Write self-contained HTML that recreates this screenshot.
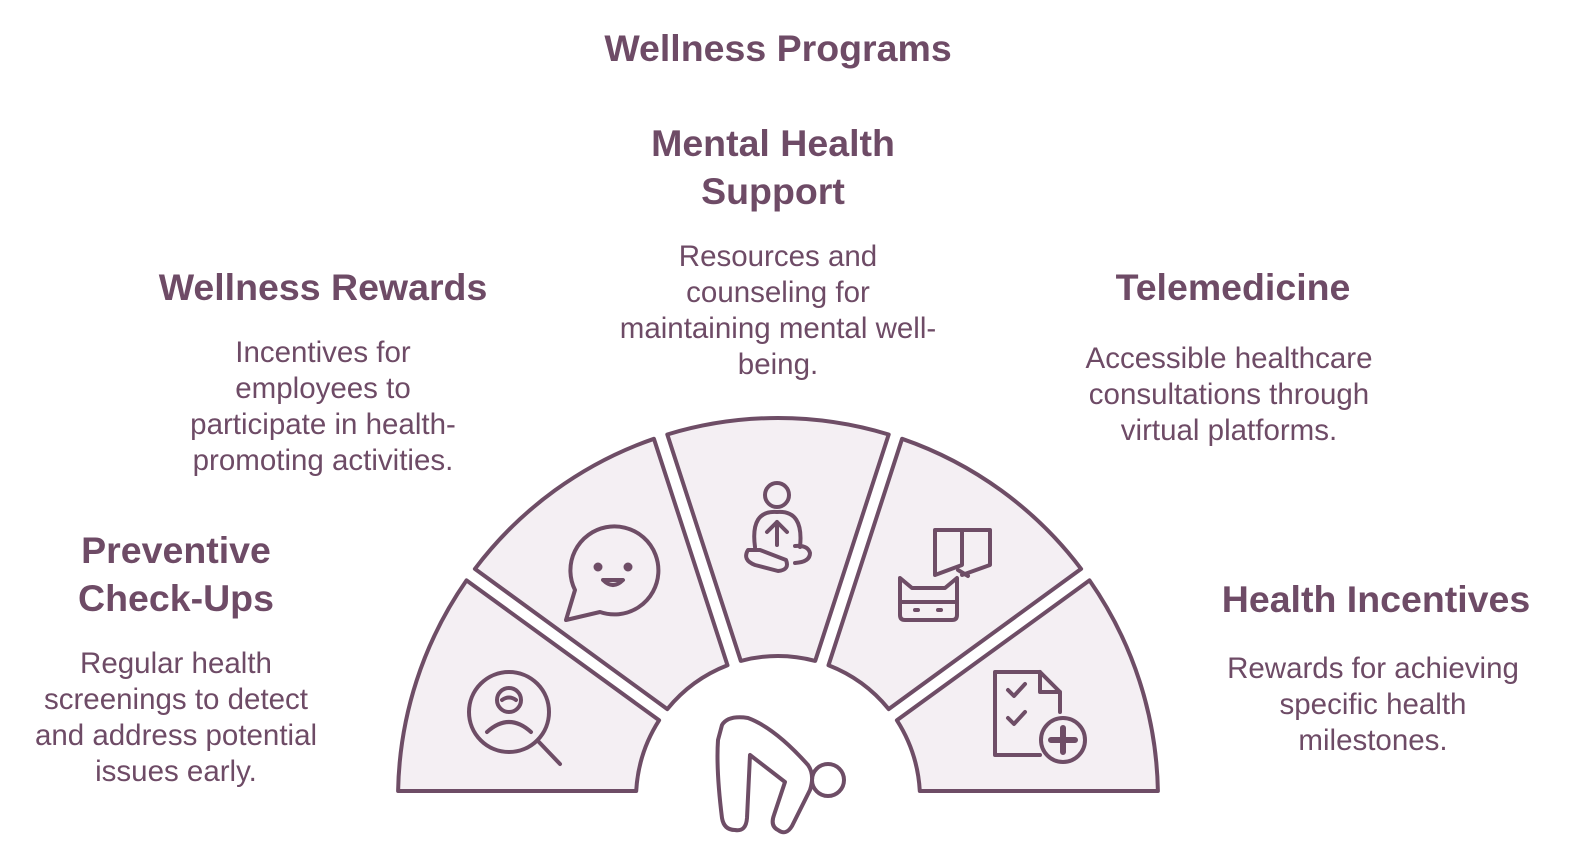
<!DOCTYPE html>
<html><head><meta charset="utf-8"><style>
body{margin:0;width:1572px;height:866px;background:#fff;overflow:hidden;font-family:"Liberation Sans",Roboto,sans-serif;color:#6e4b66}
.t{position:absolute;text-align:center;font-weight:bold;font-size:37.5px;line-height:48px;color:#6e4b66}
.d{position:absolute;text-align:center;font-size:29.5px;line-height:36px;color:#6e4b66}
svg{position:absolute;left:0;top:0}
</style></head><body>
<svg width="1572" height="866" viewBox="0 0 1572 866" fill="none" stroke="#6e4d66" stroke-width="4" stroke-linecap="round" stroke-linejoin="round">
<g fill="#f4eff3">
<path d="M398.1,791 A380,380 0 0 1 466.5,580.4 L659.1,720.3 A146,146 0 0 0 636.2,791 Z"/>
<path d="M474.9,568.9 A380,380 0 0 1 653.9,438.8 L727.5,665.3 A146,146 0 0 0 667.3,709.1 Z"/>
<path d="M667.3,434.5 A380,380 0 0 1 888.7,434.5 L815.2,660.9 A146,146 0 0 0 740.8,660.9 Z"/>
<path d="M902.1,438.8 A380,380 0 0 1 1081.1,568.9 L888.7,709.1 A146,146 0 0 0 828.5,665.3 Z"/>
<path d="M1089.5,580.4 A380,380 0 0 1 1157.9,791 L919.8,791 A146,146 0 0 0 896.9,720.3 Z"/>
</g>
<circle cx="509" cy="712" r="40"/><line x1="538" y1="741" x2="560" y2="764"/>
<circle cx="509" cy="700" r="12"/><path d="M487,732 Q509,712 531,732"/><path d="M502,700 Q509,695 516,700"/>
<path d="M575,590 A44,44 0 1 1 600,612 L566,620 Z" fill="none"/>
<circle cx="598" cy="567" r="2.5" fill="#6e4d66"/><circle cx="628" cy="567" r="2.5" fill="#6e4d66"/><path d="M603,580 Q613,590 623,580 Z"/>
<circle cx="777" cy="495" r="12"/><path d="M755,547 Q750,510 777,512 Q804,510 800,547"/><path d="M767,532 L777,522 L787,532 M777,522 L777,545"/>
<path d="M748,550 Q742,560 755,565 L778,571 Q790,570 786,560 L760,550 Z"/><path d="M795,563 Q810,562 810,553 Q808,545 795,546"/>
<path d="M935,530 L935,575 L962,565 L962,530 Z M962,530 L990,530 L990,565 L962,575"/><path d="M958,570 L968,576"/>
<path d="M900,592 L900,578 L912,588 L945,588 L957,578 L957,592 L957,615 Q957,620 952,620 L905,620 Q900,620 900,615 Z"/><line x1="900" y1="602" x2="957" y2="602"/><line x1="915" y1="610" x2="918" y2="610"/><line x1="938" y1="610" x2="941" y2="610"/>
<path d="M1040,688 L1040,672 L995,672 L995,755 L1040,755 M1040,672 L1060,692 L1060,712 M1040,672 L1040,692 L1060,692"/>
<path d="M1008,690 L1014,696 L1025,684 M1008,718 L1014,724 L1025,712"/>
<circle cx="1063" cy="740" r="22"/><path d="M1063,728 L1063,752 M1051,740 L1075,740" stroke-width="6"/>
<circle cx="828" cy="780" r="16"/>
<path d="M722,725 Q728,715 748,718 Q775,728 808,765 Q815,775 810,790 L792,826 Q786,836 778,830 Q770,826 774,815 L785,782 L750,755 L747,818 Q746,832 735,830 Q724,830 722,818 Q716,770 718,740 Z" fill="#fff"/>
</svg>
<div class="t" style="left:478px;top:24px;width:600px">Wellness Programs</div>
<div class="t" style="left:573px;top:119px;width:400px">Mental Health<br>Support</div>
<div class="d" style="left:578px;top:239px;width:400px">Resources and<br>counseling for<br>maintaining mental well-<br>being.</div>
<div class="t" style="left:123px;top:263px;width:400px">Wellness Rewards</div>
<div class="d" style="left:123px;top:335px;width:400px">Incentives for<br>employees to<br>participate in health-<br>promoting activities.</div>
<div class="t" style="left:1033px;top:263px;width:400px">Telemedicine</div>
<div class="d" style="left:1029px;top:341px;width:400px">Accessible healthcare<br>consultations through<br>virtual platforms.</div>
<div class="t" style="left:-24px;top:526px;width:400px">Preventive<br>Check-Ups</div>
<div class="d" style="left:-24px;top:646px;width:400px">Regular health<br>screenings to detect<br>and address potential<br>issues early.</div>
<div class="t" style="left:1176px;top:575px;width:400px">Health Incentives</div>
<div class="d" style="left:1173px;top:651px;width:400px">Rewards for achieving<br>specific health<br>milestones.</div>
</body></html>
